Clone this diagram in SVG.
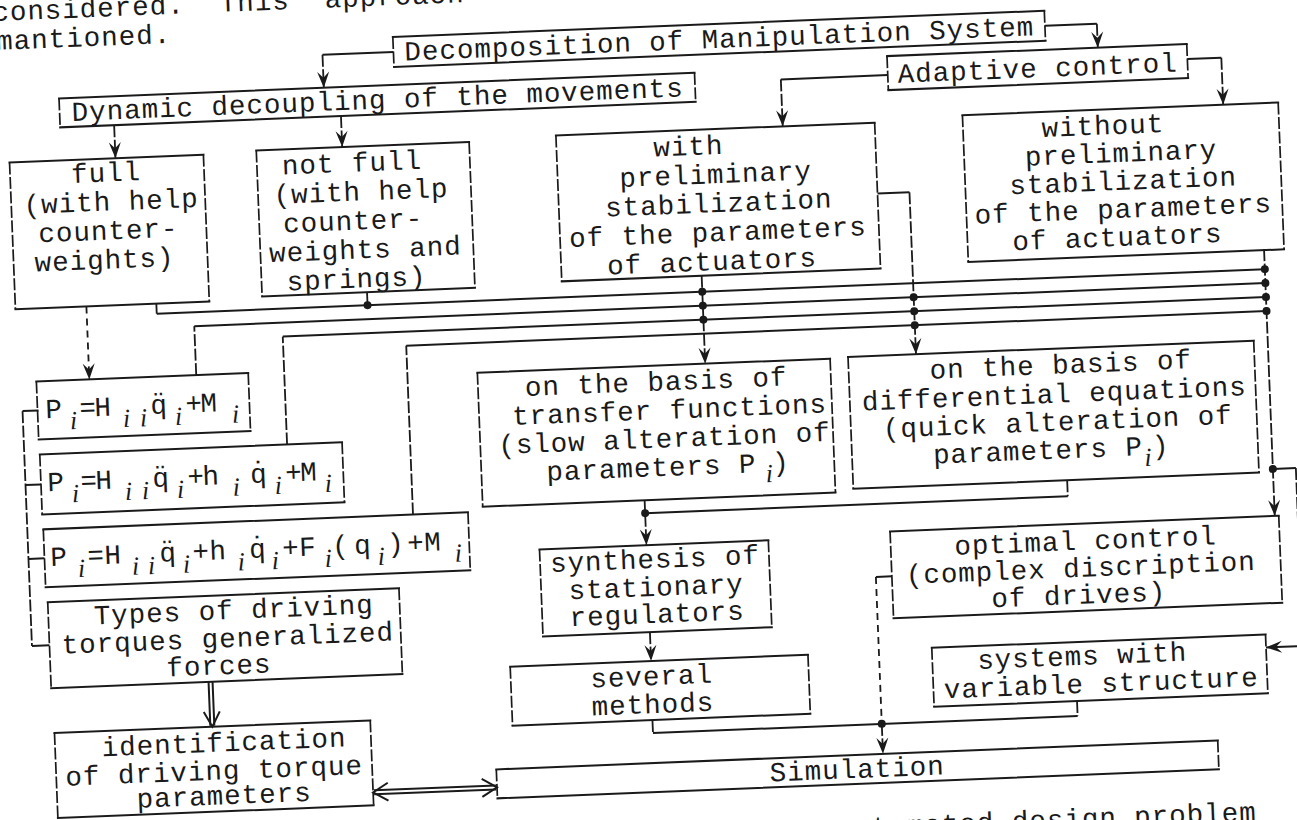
<svg xmlns="http://www.w3.org/2000/svg" width="1297" height="820" viewBox="0 0 1297 820">
<defs>
<style>
.t{font-family:"Liberation Mono","DejaVu Sans Mono",monospace;font-size:27.5px;letter-spacing:1px;fill:#1a1a1a}
.m{text-anchor:middle}
.s{font-family:"Liberation Serif","DejaVu Serif",serif;font-style:italic;font-size:26px;letter-spacing:0}
.bh{fill:none;stroke:#1a1a1a;stroke-width:2;stroke-linecap:square}
.bv{fill:none;stroke:#1a1a1a;stroke-width:1.7;stroke-dasharray:12 2.5}
.h{fill:none;stroke:#1a1a1a;stroke-width:2}
.v{fill:none;stroke:#1a1a1a;stroke-width:1.8;stroke-dasharray:12 2.5}
.d{fill:none;stroke:#1a1a1a;stroke-width:1.8;stroke-dasharray:7 5}
.a{marker-end:url(#ah)}
.dot{fill:#1a1a1a}
</style>
<marker id="ah" viewBox="-17 -7 18 14" refX="0" refY="0" markerWidth="18" markerHeight="14" markerUnits="userSpaceOnUse" orient="auto"><path d="M0,0 L-16,-6 L-10,0 L-16,6 Z" fill="#1a1a1a"/></marker>
</defs>
<rect width="1297" height="820" fill="#ffffff"/>
<g transform="rotate(-2.3 648 410)">

<g id="page-text">
<text class="t" x="8.8" y="-5" xml:space="preserve">considered.  This  approach</text>
<text class="t" x="11.6" y="24">mantioned.</text>
<text class="t" x="855" y="844.6">tomated design problem</text>
</g>

<g id="connectors">
<path class="h" d="M408,42 H337"/><path class="v a" d="M337,42 V75"/>
<path class="h" d="M1060,42 H1112"/><path class="v a" d="M1112,42 V66"/>
<path class="h" d="M901,85 H794"/><path class="v a" d="M794,85 V132"/>
<path class="h" d="M1201,81 H1235"/><path class="v a" d="M1235,81 V128"/>
<path class="v a" d="M126,104 V137"/>
<path class="v a" d="M353,104 V135"/>
<path class="d a" d="M91,284 V357"/>
<path class="v" d="M161,284 V294"/><path class="h" d="M161,294 H1270"/>
<path class="v" d="M372,281 V294"/>
<path class="v" d="M198,357 V308"/><path class="h" d="M198,308 H1270"/>
<path class="v" d="M286,430 V322"/><path class="h" d="M286,322 H1270"/>
<path class="v" d="M409,505 V336"/><path class="h" d="M409,336 H1270"/>
<path class="v a" d="M707,278 V366"/>
<path class="h" d="M886,203 H918"/><path class="v a" d="M918,203 V365"/>
<path class="v a" d="M1270,274 V541"/>
<path class="h" d="M1270,494 H1293"/><path class="v" d="M1293,494 V672"/><path class="h a" d="M1293,672 H1256"/>
<path class="v a" d="M641,500 V545"/>
<path class="v" d="M1064,497 V513"/><path class="h" d="M1064,513 H641"/>
<path class="v a" d="M641,632 V661"/>
<path class="v" d="M640,720 V733"/><path class="h" d="M640,733 H1065"/><path class="v" d="M1065,718 V733"/>
<path class="h" d="M885,586 H869"/><path class="d" d="M869,586 V733"/>
<path class="v a" d="M869,733 V763"/>
<path class="h" d="M39,386 H23 M23,621 H40.5 M23,460 H38.5 M23,534 H39"/><path class="v" d="M23,386 V621"/>
<path class="h" d="M198,664 V708 M202,664 V708"/><path class="h" d="M192,694 L200,709 L208,694"/>
<path class="h" d="M359,779 H481 M359,783 H481"/><path class="h" d="M373,772 L358,781 L373,790 M467,772 L482,781 L467,790"/>
<circle class="dot" cx="372" cy="294" r="4"/>
<circle class="dot" cx="707" cy="294" r="4"/><circle class="dot" cx="707" cy="308" r="4"/><circle class="dot" cx="707" cy="322" r="4"/>
<circle class="dot" cx="918" cy="308" r="4"/><circle class="dot" cx="918" cy="322" r="4"/><circle class="dot" cx="918" cy="336" r="4"/>
<circle class="dot" cx="1270" cy="294" r="4"/><circle class="dot" cx="1270" cy="308" r="4"/><circle class="dot" cx="1270" cy="322" r="4"/><circle class="dot" cx="1270" cy="336" r="4"/><circle class="dot" cx="1270" cy="494" r="4"/>
<circle class="dot" cx="641" cy="513" r="4"/>
<circle class="dot" cx="869" cy="733" r="4"/>
</g>

<g id="n-decomposition">
<path class="bh" d="M408,27 H1060 M408,57 H1060"/><path class="bv" d="M408,27 V57 M1060,27 V57"/>
<text class="t" x="419" y="51">Decomposition of Manipulation System</text>
</g>
<g id="n-dynamic">
<path class="bh" d="M72,75 H708 M72,104 H708"/><path class="bv" d="M72,75 V104 M708,75 V104"/>
<text class="t" x="84" y="98">Dynamic decoupling of the movements</text>
</g>
<g id="n-adaptive">
<path class="bh" d="M901,66 H1201 M901,100 H1201"/><path class="bv" d="M901,66 V100 M1201,66 V100"/>
<text class="t" x="911" y="93">Adaptive control</text>
</g>
<g id="n-full">
<path class="bh" d="M20,137 H214 M20,284 H214"/><path class="bv" d="M20,137 V284 M214,137 V284"/>
<text class="t m" x="116" y="160">full</text>
<text class="t m" x="120" y="189">(with help</text>
<text class="t m" x="116" y="218">counter-</text>
<text class="t m" x="111" y="247">weights)</text>
</g>
<g id="n-notfull">
<path class="bh" d="M267,135 H480 M267,281 H480"/><path class="bv" d="M267,135 V281 M480,135 V281"/>
<text class="t m" x="362" y="160">not full</text>
<text class="t m" x="370" y="189">(with help</text>
<text class="t m" x="361" y="218">counter-</text>
<text class="t m" x="372" y="247">weights and</text>
<text class="t m" x="362" y="276">springs)</text>
</g>
<g id="n-with">
<path class="bh" d="M567,132 H886 M567,278 H886"/><path class="bv" d="M567,132 V278 M886,132 V278"/>
<text class="t m" x="699" y="157">with</text>
<text class="t m" x="725" y="186">preliminary</text>
<text class="t m" x="727" y="215">stabilization</text>
<text class="t m" x="725" y="244">of the parameters</text>
<text class="t m" x="718" y="273">of actuators</text>
</g>
<g id="n-without">
<path class="bh" d="M974,128 H1290 M974,275 H1290"/><path class="bv" d="M974,128 V275 M1290,128 V275"/>
<text class="t m" x="1114" y="153">without</text>
<text class="t m" x="1131" y="181">preliminary</text>
<text class="t m" x="1132" y="209">stabilization</text>
<text class="t m" x="1131" y="237">of the parameters</text>
<text class="t m" x="1124" y="265">of actuators</text>
</g>
<g id="n-transfer">
<path class="bh" d="M479,366 H832 M479,500 H832"/><path class="bv" d="M479,366 V500 M832,366 V500"/>
<text class="t" x="526" y="391">on the basis of</text>
<text class="t" x="512" y="419.5">transfer functions</text>
<text class="t" x="497" y="448">(slow alteration of</text>
<text class="t" y="476.5"><tspan x="544">parameters P</tspan><tspan class="s" x="763" y="487">i</tspan><tspan x="770" y="476.5">)</tspan></text>
</g>
<g id="n-differential">
<path class="bh" d="M850,365 H1256 M850,497 H1256"/><path class="bv" d="M850,365 V497 M1256,365 V497"/>
<text class="t" x="931" y="390">on the basis of</text>
<text class="t" x="862" y="419">differential equations</text>
<text class="t" x="882" y="447">(quick alteration of</text>
<text class="t" y="475"><tspan x="931">parameters P</tspan><tspan class="s" x="1142" y="486">i</tspan><tspan x="1150" y="475">)</tspan></text>
</g>
<g id="n-p1">
<path class="bh" d="M38,357 H250 M38,415 H250"/><path class="bv" d="M38,357 V415 M250,357 V415"/>
<text class="t"><tspan x="46" y="394">P</tspan><tspan class="s" x="70" y="406">i</tspan><tspan x="80" y="394">=</tspan><tspan x="95" y="394">H</tspan><tspan class="s" x="123" y="406">i</tspan><tspan class="s" x="140" y="406">i</tspan><tspan x="151" y="394">q</tspan><tspan x="151" y="392">¨</tspan><tspan class="s" x="175" y="406">i</tspan><tspan x="186" y="394">+</tspan><tspan x="201" y="394">M</tspan><tspan class="s" x="232" y="406">i</tspan></text>
</g>
<g id="n-p2">
<path class="bh" d="M38.5,430 H341 M38.5,490 H341"/><path class="bv" d="M38.5,430 V490 M341,430 V490"/>
<text class="t"><tspan x="45" y="467">P</tspan><tspan class="s" x="69" y="479">i</tspan><tspan x="78" y="467">=</tspan><tspan x="93" y="467">H</tspan><tspan class="s" x="122" y="479">i</tspan><tspan class="s" x="139" y="479">i</tspan><tspan x="150" y="467">q</tspan><tspan x="150" y="465">¨</tspan><tspan class="s" x="174" y="479">i</tspan><tspan x="185" y="467">+</tspan><tspan x="200" y="467">h</tspan><tspan class="s" x="230" y="479">i</tspan><tspan x="248" y="467">q</tspan><tspan x="248" y="465">˙</tspan><tspan class="s" x="272" y="479">i</tspan><tspan x="283" y="467">+</tspan><tspan x="298" y="467">M</tspan><tspan class="s" x="322" y="479">i</tspan></text>
</g>
<g id="n-p3">
<path class="bh" d="M39,505 H464 M39,563 H464"/><path class="bv" d="M39,505 V563 M464,505 V563"/>
<text class="t"><tspan x="45" y="542">P</tspan><tspan class="s" x="72" y="554">i</tspan><tspan x="82" y="542">=</tspan><tspan x="99" y="542">H</tspan><tspan class="s" x="126" y="554">i</tspan><tspan class="s" x="142" y="554">i</tspan><tspan x="154" y="542">q</tspan><tspan x="154" y="540">¨</tspan><tspan class="s" x="177" y="554">i</tspan><tspan x="187" y="542">+</tspan><tspan x="204" y="542">h</tspan><tspan class="s" x="232" y="554">i</tspan><tspan x="244" y="542">q</tspan><tspan x="244" y="540">˙</tspan><tspan class="s" x="266" y="554">i</tspan><tspan x="277" y="542">+</tspan><tspan x="294" y="542">F</tspan><tspan class="s" x="319" y="554">i</tspan><tspan x="327" y="542">(</tspan><tspan x="349" y="542">q</tspan><tspan class="s" x="372" y="554">i</tspan><tspan x="382" y="542">)</tspan><tspan x="402" y="542">+</tspan><tspan x="419" y="542">M</tspan><tspan class="s" x="449" y="554">i</tspan></text>
</g>
<g id="n-types">
<path class="bh" d="M40.5,578 H392 M40.5,664 H392"/><path class="bv" d="M40.5,578 V664 M392,578 V664"/>
<text class="t m" x="226" y="602">Types of driving</text>
<text class="t m" x="219" y="630">torques generalized</text>
<text class="t m" x="209" y="657">forces</text>
</g>
<g id="n-identification">
<path class="bh" d="M42,709 H358 M42,794 H358"/><path class="bv" d="M42,709 V794 M358,709 V794"/>
<text class="t m" x="211" y="734">identification</text>
<text class="t m" x="200" y="762">of driving torque</text>
<text class="t m" x="209" y="787">parameters</text>
</g>
<g id="n-synthesis">
<path class="bh" d="M534,545 H763 M534,632 H763"/><path class="bv" d="M534,545 V632 M763,545 V632"/>
<text class="t m" x="649" y="568">synthesis of</text>
<text class="t m" x="649" y="596">stationary</text>
<text class="t m" x="649" y="623">regulators</text>
</g>
<g id="n-several">
<path class="bh" d="M500,661 H798 M500,720 H798"/><path class="bv" d="M500,661 V720 M798,661 V720"/>
<text class="t m" x="641" y="685">several</text>
<text class="t m" x="641" y="713">methods</text>
</g>
<g id="n-optimal">
<path class="bh" d="M885,541 H1274 M885,628 H1274"/><path class="bv" d="M885,541 V628 M1274,541 V628"/>
<text class="t m" x="1080" y="567">optimal control</text>
<text class="t m" x="1074" y="594">(complex discription</text>
<text class="t m" x="1071" y="621">of drives)</text>
</g>
<g id="n-variable">
<path class="bh" d="M922,659 H1256 M922,718 H1256"/><path class="bv" d="M922,659 V718 M1256,659 V718"/>
<text class="t m" x="1072" y="682">systems with</text>
<text class="t m" x="1090" y="710">variable structure</text>
</g>
<g id="n-simulation">
<path class="bh" d="M482,763 H1204 M482,792 H1204"/><path class="bv" d="M482,763 V792 M1204,763 V792"/>
<text class="t" x="755" y="786">Simulation</text>
</g>

</g>
</svg>
